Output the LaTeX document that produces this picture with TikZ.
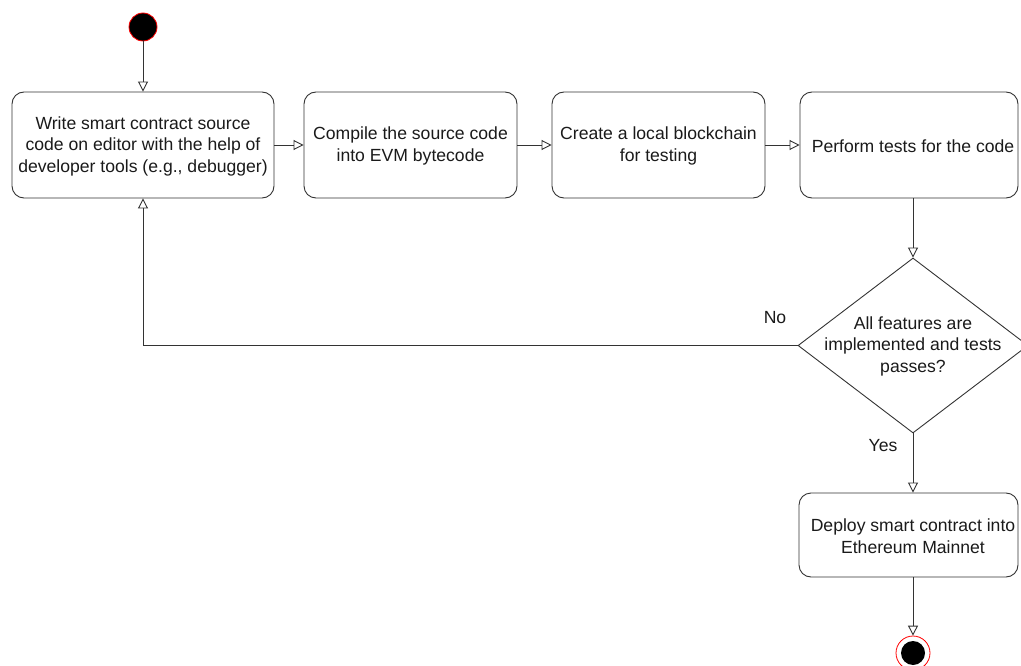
\documentclass[tikz,border=0pt]{standalone}
\usepackage{fontspec}
\setmainfont{Liberation Sans}
\usetikzlibrary{arrows.meta,shapes.geometric}
\definecolor{edge}{HTML}{333333}
\definecolor{txt}{HTML}{1A1A1A}
\begin{document}
\begin{tikzpicture}[x=1pt,y=-1pt,
  every node/.style={font=\fontsize{17.6}{21.5}\selectfont, text=txt},
  stepbox/.style={draw=edge, line width=0.9pt, rounded corners=12pt, align=center, inner sep=0pt},
  flow/.style={draw=edge, line width=0.9pt, -{Triangle[open, length=10pt, width=10pt]}},
  lbl/.style={inner sep=0pt}
  ]
\useasboundingbox (0,0) rectangle (1021,666);
\clip (0,0) rectangle (1021,666);
\node[circle, draw=red, line width=0.8pt, fill=black, minimum size=28pt, inner sep=0pt] (start) at (143,27) {};
\node[stepbox, minimum width=262pt, minimum height=106pt] (b1) at (143,145) {};
\node[lbl, align=center] (b1t) at (143,146) {Write smart contract source\\code on editor with the help of\\developer tools (e.g., debugger)};
\node[stepbox, minimum width=213pt, minimum height=106pt] (b2) at (410.5,145) {};
\node[lbl, align=center] (b2t) at (410.5,146) {Compile the source code\\into EVM bytecode};
\node[stepbox, minimum width=213pt, minimum height=106pt] (b3) at (658.5,145) {};
\node[lbl, align=center] (b3t) at (658.5,146) {Create a local blockchain\\for testing};
\node[stepbox, minimum width=218pt, minimum height=106pt] (b4) at (909,145) {};
\node[lbl] (b4t) at (913,146) {Perform tests for the code};
\node[diamond, draw=edge, line width=0.9pt, minimum width=230pt, minimum height=175pt, inner sep=0pt] (dia) at (913,345.5) {};
\node[lbl, align=center] (diat) at (913,346) {All features are\\implemented and tests\\passes?};
\node[stepbox, minimum width=219pt, minimum height=84pt] (b5) at (908.5,535) {};
\node[lbl, align=center] (b5t) at (913,536) {Deploy smart contract into\\Ethereum Mainnet};
\node[circle, draw=red, line width=0.8pt, fill=white, minimum size=34pt, inner sep=0pt] (end) at (913,653) {};
\node[circle, fill=black, minimum size=24pt, inner sep=0pt] (endin) at (end) {};
\draw[flow] (start.south) -- (b1.north);
\draw[flow] (b1.east) -- (b2.west);
\draw[flow] (b2.east) -- (b3.west);
\draw[flow] (b3.east) -- (b4.west);
\draw[flow] (b4.south -| dia.north) -- (dia.north);
\draw[flow] (dia.west) -| (b1.south);
\draw[flow] (dia.south) -- (b5.north -| dia.south);
\draw[flow] (b5.south -| end.north) -- (end.north);
\node[lbl] (no) at (775,318) {No};
\node[lbl] (yes) at (883,446) {Yes};
\end{tikzpicture}
\end{document}
